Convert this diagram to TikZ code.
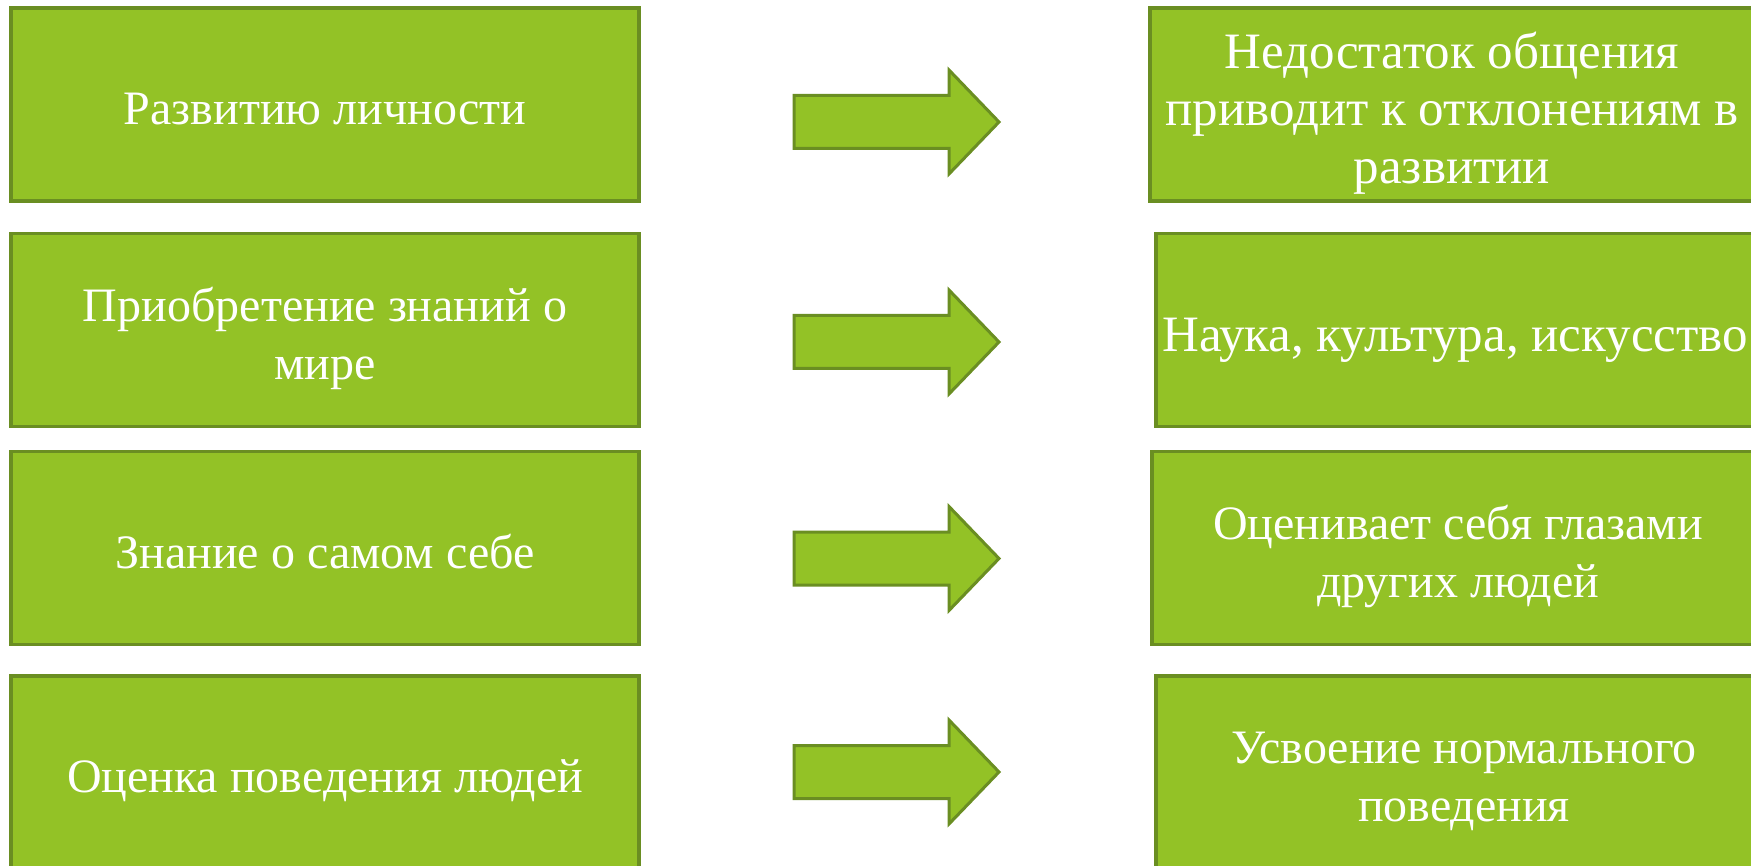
\documentclass[tikz,border=0pt]{standalone}
\usepackage{fontspec}
\setmainfont{Liberation Serif}
\definecolor{boxgreen}{RGB}{147,194,38}
\definecolor{boxedge}{RGB}{106,142,34}
% struts for the first and the last line, so lines sit as in the slide
\newcommand{\topstrut}{\rule{0pt}{1.054em}}
\newcommand{\botstrut}{\rule[-0.216em]{0pt}{0pt}}

\begin{document}
\begin{tikzpicture}[x=1pt, y=-1pt,
    every node/.style={rectangle, draw=boxedge, line width=3.5pt, fill=boxgreen, text=white, align=center,
        minimum height=193pt, font=\fontsize{48}{58}\selectfont},
    lftbox/.style={minimum width=628pt},
    bigtext/.style={font=\fontsize{51}{57.5}\selectfont},
    bigarrow/.style={draw=boxedge, line width=3pt, fill=boxgreen, line join=miter}]
    \clip (0,0) rectangle (1751,866);

    \node[lftbox] (lft1) at (325,104.5) {\topstrut Развитию личности\botstrut};
    \node[lftbox] (lft2) at (325,330) {\topstrut Приобретение знаний о\\мире\botstrut};
    \node[lftbox] (lft3) at (325,548) {\topstrut Знание о самом себе\botstrut};
    \node[lftbox] (lft4) at (325,772.5) {\topstrut Оценка поведения людей\botstrut};

    \node[bigtext, minimum width=604pt] (rgt1) at (1452,104.5) {\topstrut Недостаток общения\\приводит к отклонениям в\\развитии\botstrut};
    \node[bigtext, minimum width=598pt] (rgt2) at (1455,330) {\topstrut Наука, культура, искусство\botstrut};
    \node[minimum width=612pt] (rgt3) at (1458,548) {\topstrut Оценивает себя глазами\\других людей\botstrut};
    \node[minimum width=616pt] (rgt4) at (1464,772.5) {\topstrut Усвоение нормального\\поведения\botstrut};

    \foreach \c in {122,342,558.5,772}
        \draw[bigarrow] (794,{\c-26.5}) -- (949,{\c-26.5}) -- (949,{\c-52}) -- (999,\c)
            -- (949,{\c+52}) -- (949,{\c+26.5}) -- (794,{\c+26.5}) -- cycle;
\end{tikzpicture}
\end{document}
